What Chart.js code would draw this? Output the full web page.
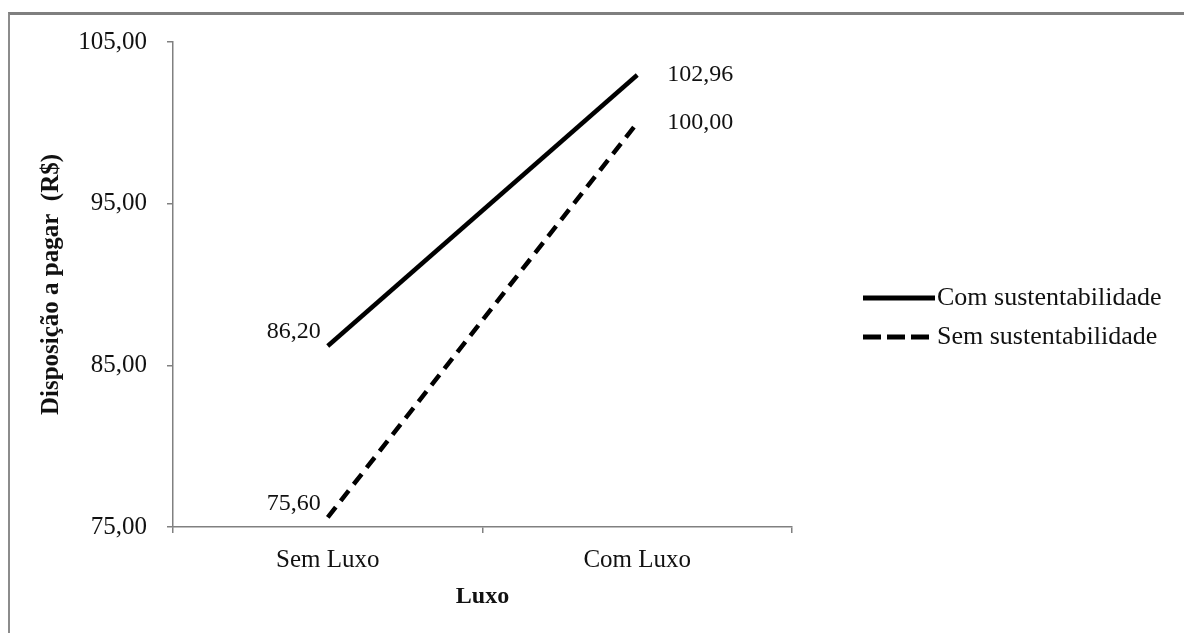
<!DOCTYPE html>
<html>
<head>
<meta charset="utf-8">
<title>Disposição a pagar</title>
<script src="https://cdn.jsdelivr.net/npm/chart.js@4.4.0/dist/chart.umd.min.js"></script>
<style>
    html, body { margin: 0; padding: 0; background: #fff; }
    #wrap { position: relative; width: 1184px; height: 633px; overflow: hidden; }
    #frame { position: absolute; left: 8px; top: 12px; right: 0; bottom: 0; border-top: 3px solid #7f7f7f; border-left: 2px solid #8c8c8c; }
    canvas { position: absolute; left: 0; top: 0; }
</style>
</head>
<body>
<div id="wrap">
    <div id="frame"></div>
    <canvas id="chart" width="1184" height="633"></canvas>
</div>
<script>
'use strict';

const categories = ['Sem Luxo', 'Com Luxo'];
const seriesNames = ['Com sustentabilidade', 'Sem sustentabilidade'];
const comSustentabilidade = [86.20, 102.96];
const semSustentabilidade = [75.60, 100.00];
const yTicks = [75, 85, 95, 105];

const serif = '"Liberation Serif", "Times New Roman", serif';
const axisGray = '#808080';
const ink = '#111';
const fmt = v => v.toFixed(2).replace('.', ',');

// value labels next to each end of the lines
const valueLabels = {
    id: 'valueLabels',
    afterDatasetsDraw(chart) {
        const ctx = chart.ctx;
        ctx.save();
        ctx.font = '24px ' + serif;
        ctx.fillStyle = ink;
        ctx.textBaseline = 'middle';
        chart.data.datasets.forEach((ds, i) => {
            chart.getDatasetMeta(i).data.forEach((pt, j) => {
                const text = fmt(ds.data[j]);
                if (j === 0) {
                    ctx.textAlign = 'right';
                    ctx.fillText(text, pt.x - 7, pt.y - 14);
                } else {
                    ctx.textAlign = 'left';
                    ctx.fillText(text, pt.x + 30, pt.y);
                }
            });
        });
        ctx.restore();
    }
};

// legend on the right, line sample then text
const sideLegend = {
    id: 'sideLegend',
    afterDraw(chart) {
        const ctx = chart.ctx;
        const x0 = chart.chartArea.right + 71;
        ctx.save();
        ctx.font = '26px ' + serif;
        ctx.fillStyle = ink;
        ctx.textAlign = 'left';
        ctx.textBaseline = 'middle';
        chart.data.datasets.forEach((ds, i) => {
            const y = 298 + i * 39;
            ctx.strokeStyle = '#000';
            ctx.lineWidth = 5;
            ctx.setLineDash(ds.borderDash && ds.borderDash.length ? [18, 6] : []);
            ctx.beginPath();
            ctx.moveTo(x0, y);
            ctx.lineTo(x0 + 72, y);
            ctx.stroke();
            ctx.fillText(ds.label, x0 + 74, y);
        });
        ctx.restore();
    }
};

const ctx = document.getElementById('chart').getContext('2d');

new Chart(ctx, {
    type: 'line',
    data: {
        labels: categories,
        datasets: [{
            label: seriesNames[0],
            data: comSustentabilidade,
            borderColor: '#000',
            borderWidth: 4.5,
            borderCapStyle: 'butt',
            pointRadius: 0,
            fill: false
        }, {
            label: seriesNames[1],
            data: semSustentabilidade,
            borderColor: '#000',
            borderWidth: 4.5,
            borderCapStyle: 'butt',
            borderDash: [13, 8],
            pointRadius: 0,
            fill: false
        }]
    },
    options: {
        responsive: false,
        animation: false,
        devicePixelRatio: 1,
        layout: {
            padding: { left: 0, top: 42, right: 392, bottom: 0 }
        },
        plugins: {
            legend: { display: false },
            tooltip: { enabled: false }
        },
        scales: {
            x: {
                type: 'category',
                offset: true,
                grid: {
                    offset: true,
                    drawOnChartArea: false,
                    color: axisGray,
                    lineWidth: 1.5,
                    tickLength: 6
                },
                border: { color: axisGray, width: 1.5 },
                ticks: {
                    color: ink,
                    font: { family: serif, size: 25 },
                    padding: 12
                },
                title: {
                    display: true,
                    text: 'Luxo',
                    color: ink,
                    font: { family: serif, size: 24, weight: 'bold' },
                    padding: { top: 0, bottom: 22 }
                },
                afterFit: s => { s.height = 106; }
            },
            y: {
                min: 75,
                max: 105,
                grid: {
                    drawOnChartArea: false,
                    color: axisGray,
                    lineWidth: 1.5,
                    tickLength: 6
                },
                border: { color: axisGray, width: 1.5 },
                ticks: {
                    color: ink,
                    font: { family: serif, size: 25 },
                    padding: 20,
                    callback: v => fmt(v)
                },
                afterBuildTicks: s => { s.ticks = yTicks.map(v => ({ value: v })); },
                title: {
                    display: true,
                    text: 'Disposição a pagar  (R$)',
                    color: ink,
                    font: { family: serif, size: 25, weight: 'bold' },
                    padding: { top: 37, bottom: 0 }
                },
                afterFit: s => { s.width = 173; }
            }
        }
    },
    plugins: [valueLabels, sideLegend]
});
</script>
</body>
</html>
